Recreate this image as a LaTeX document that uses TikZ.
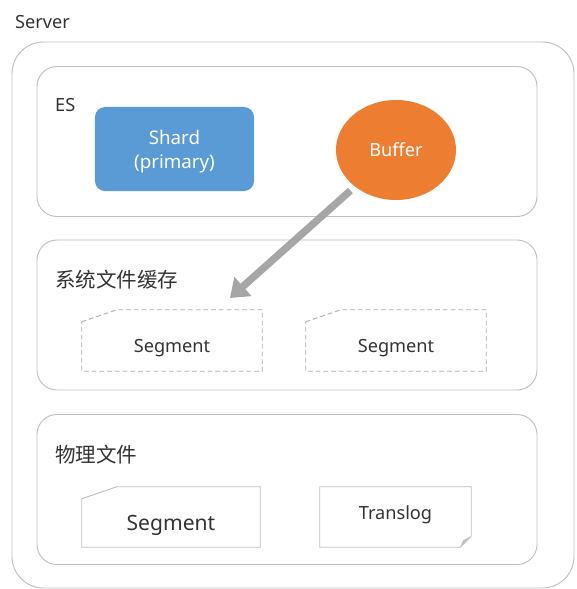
\documentclass[tikz,border=0pt]{standalone}
\usepackage{fontspec}
\setmainfont{Noto Sans}
\newfontfamily\cjk{Noto Sans CJK SC}
\usepackage{xcolor}
\usepackage{tikz}
\usetikzlibrary{arrows.meta, positioning, shapes.geometric, calc}

\definecolor{borde}{HTML}{BFBFBF}
\definecolor{texto}{HTML}{333333}
\definecolor{azul}{HTML}{5B9BD5}
\definecolor{naranja}{HTML}{ED7D31}
\definecolor{flecha}{HTML}{A6A6A6}

\begin{document}
\begin{tikzpicture}[
  x=0.03cm, y=-0.03cm,
  font=\fontsize{15.5}{19}\selectfont, text=texto,
  capa/.style={rectangle, rounded corners=0.6cm, draw=borde, line width=0.8pt,
               minimum width=15cm, minimum height=4.5cm},
  shard/.style={rectangle, rounded corners=0.3cm, fill=azul, text=white,
               minimum width=4.77cm, minimum height=2.52cm, align=center,
               font=\fontsize{16}{20.5}\selectfont},
  buffer/.style={ellipse, fill=naranja, text=white,
               minimum width=3.6cm, minimum height=3cm},
  seg/.style={rectangle, minimum width=5.4cm, minimum height=1.83cm, inner sep=0pt},
  marco/.style={draw=borde, line width=0.8pt},
  punteado/.style={draw=borde!90!black, dash pattern=on 4pt off 2.6pt},
  fl/.style={-{Triangle[length=0.52cm, width=0.74cm]}, line width=0.22cm,
             draw=flecha, shorten <=5pt},
  etiqueta/.style={inner sep=0pt, anchor=west},
  titulo/.style={etiqueta, font=\cjk\fontsize{17.5}{20}\selectfont}
]
\useasboundingbox (0,0) rectangle (576,589);

% ---- Server ----
\node[capa, rounded corners=0.95cm, minimum width=16.86cm, minimum height=16.38cm]
  (server) at (293,315) {};
\node[etiqueta] (lserver) at (15,22) {Server};

% ---- ES ----
\node[capa] (es) at (287,141.5) {};
\node[etiqueta] (les) at (55,105) {ES};
\node[shard] (shard) at (174.5,149) {\rule{0pt}{1.05em}Shard\\(primary)};
\node[buffer] (buffer) at (396,150) {Buffer};

% ---- Cache ----
\node[capa] (cache) at (287,315) {};
\node[titulo] (lcache) at (55,280) {系统文件缓存};
\node[seg] (segc1) at (172,340.5) {\rule{0pt}{24pt}Segment};
\node[seg] (segc2) at (396,340.5) {\rule{0pt}{24pt}Segment};

% ---- Disco ----
\node[capa] (disco) at (287,489.5) {};
\node[titulo] (ldisco) at (55,455) {物理文件};
\node[seg, minimum width=5.34cm, minimum height=1.8cm, font=\fontsize{18}{20}\selectfont]
  (segd) at (171,517) {\rule{0pt}{26.6pt}Segment};
\node[seg, minimum width=4.53cm, minimum height=1.8cm]
  (tlog) at (395.5,517) {\rule[-0.45em]{0pt}{0pt}Translog};

% contornos con esquina cortada
\foreach \s/\linea in {segc1/punteado, segc2/punteado, segd/solid}
  \draw[marco, \linea] ($(\s.north west)+(0,12)$) -- ($(\s.north west)+(35,0)$)
    -- (\s.north east) -- (\s.south east) -- (\s.south west) -- cycle;
\draw[marco] (tlog.north west) -- (tlog.north east) -- ($(tlog.south east)+(0,-11)$)
  -- ($(tlog.south east)+(-11,0)$) -- (tlog.south west) -- cycle;
\fill[borde] ($(tlog.south east)+(0,-11)$) -- ($(tlog.south east)+(-11,0)$)
  -- ($(tlog.south east)+(-8,-7)$) -- cycle;

% ---- Flujo ----
\coordinate (destino) at (230,298);
\draw[fl] (buffer) -- (destino);
\end{tikzpicture}
\end{document}
